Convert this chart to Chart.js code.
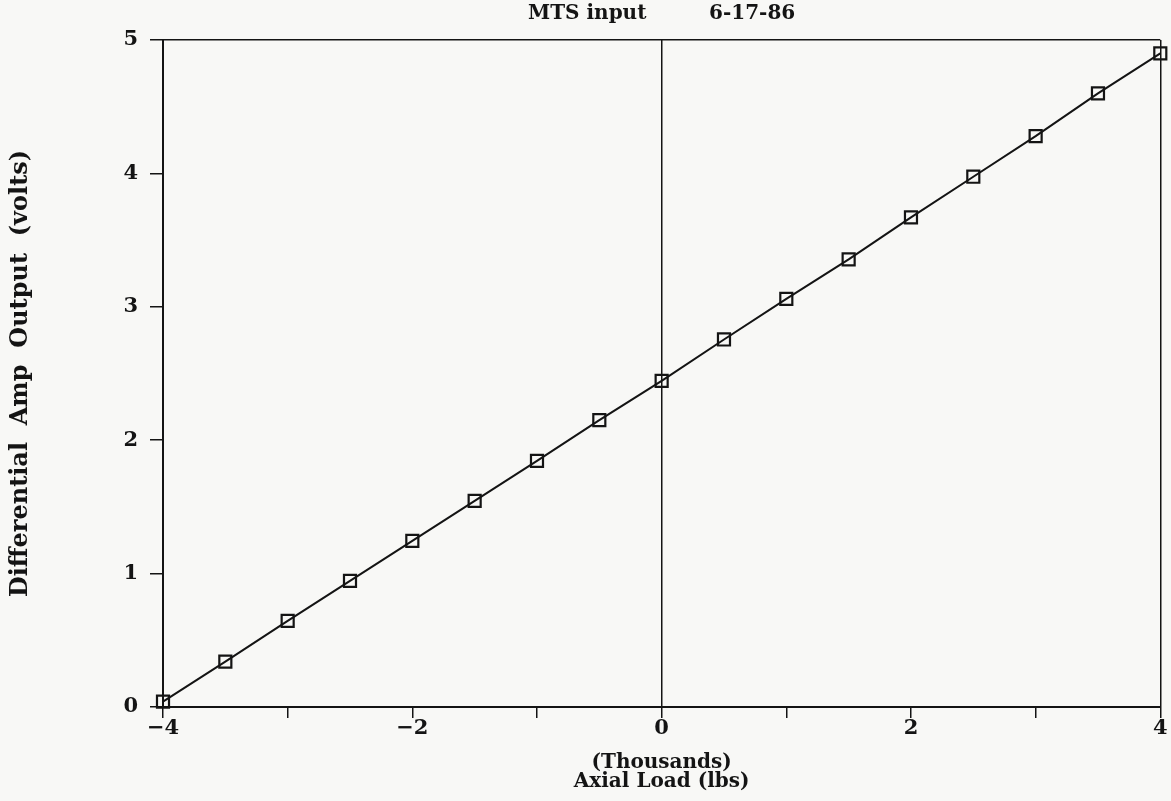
<!DOCTYPE html>
<html>
<head>
<meta charset="utf-8">
<script src="https://cdn.jsdelivr.net/npm/chart.js@4.4.1/dist/chart.umd.min.js"></script>
<style>
  html, body { margin: 0; padding: 0; background: #f8f8f6; }
  #wrap { width: 1171px; height: 801px; }
</style>
</head>
<body>
<div id="wrap"><canvas id="c" width="1171" height="801"></canvas></div>
<script>
// Axial load (thousands of lbs)
const loads = [-4, -3.5, -3, -2.5, -2, -1.5, -1, -0.5, 0, 0.5, 1, 1.5, 2, 2.5, 3, 3.5, 4];
// Differential amp output (volts)
const volts = [0.04, 0.34, 0.645, 0.945, 1.245, 1.545, 1.845, 2.15, 2.445, 2.755, 3.06, 3.355, 3.67, 3.975, 4.28, 4.6, 4.9];

const titleText = 'MTS input         6-17-86';
const xTitle = ['(Thousands)', 'Axial Load (lbs)'];
const yTitle = 'Differential  Amp  Output  (volts)';

const FONT = "'DejaVu Serif', 'Liberation Serif', serif";
const INK = '#141414';

const bgPlugin = {
  id: 'bg',
  beforeDraw(chart) {
    const ctx = chart.ctx;
    ctx.save();
    ctx.fillStyle = '#f8f8f6';
    ctx.fillRect(0, 0, chart.width, chart.height);
    ctx.restore();
  }
};

new Chart(document.getElementById('c'), {
  type: 'scatter',
  data: {
    datasets: [{
      data: loads.map((x, i) => ({ x: x, y: volts[i] })),
      showLine: true,
      clip: false,
      borderColor: INK,
      borderWidth: 2,
      pointStyle: 'rect',
      pointRadius: 8.5,
      pointBorderWidth: 2.2,
      pointBorderColor: INK,
      pointBackgroundColor: 'rgba(0,0,0,0)',
      tension: 0
    }]
  },
  options: {
    responsive: false,
    animation: false,
    layout: { padding: { left: 0, right: 10, top: 0, bottom: 0 } },
    plugins: {
      legend: { display: false },
      tooltip: { enabled: false },
      title: {
        display: true,
        fullSize: false,
        text: titleText,
        color: INK,
        font: { family: FONT, size: 20, weight: 'bold', lineHeight: 1.2 },
        padding: { top: 2, bottom: 14 }
      }
    },
    scales: {
      x: {
        type: 'linear',
        min: -4, max: 4,
        afterFit(s) { s.height = 94; },
        border: { display: true, color: INK, width: 2 },
        grid: {
          drawOnChartArea: true,
          drawTicks: true,
          tickLength: 11,
          tickColor: INK,
          lineWidth: 1.5,
          color: (c) => (c.tick && (c.tick.value === 0 || c.tick.value === 4)) ? INK : 'rgba(0,0,0,0)'
        },
        ticks: {
          stepSize: 1,
          autoSkip: false,
          maxRotation: 0,
          padding: -2,
          color: INK,
          font: { family: FONT, size: 21, weight: 'bold' },
          callback: (v) => (Math.abs(v % 2) < 1e-9) ? String(v).replace('-', '\u2212') : ''
        },
        title: {
          display: true,
          text: xTitle,
          color: INK,
          font: { family: FONT, size: 20, weight: 'bold', lineHeight: 0.95 },
          padding: { top: 0, bottom: 10 }
        }
      },
      y: {
        type: 'linear',
        min: 0, max: 5,
        afterFit(s) { s.width = 163; },
        border: { display: true, color: INK, width: 2 },
        grid: {
          drawOnChartArea: true,
          drawTicks: true,
          tickLength: 13,
          tickColor: INK,
          lineWidth: 1.5,
          color: (c) => (c.tick && c.tick.value === 5) ? INK : 'rgba(0,0,0,0)'
        },
        ticks: {
          stepSize: 1,
          padding: 12,
          color: INK,
          font: { family: FONT, size: 21, weight: 'bold' }
        },
        title: {
          display: true,
          text: yTitle,
          color: INK,
          font: { family: FONT, size: 24, weight: 'bold', lineHeight: 1.2 },
          padding: { top: 6, bottom: 0 }
        }
      }
    }
  },
  plugins: [bgPlugin]
});
</script>
</body>
</html>
